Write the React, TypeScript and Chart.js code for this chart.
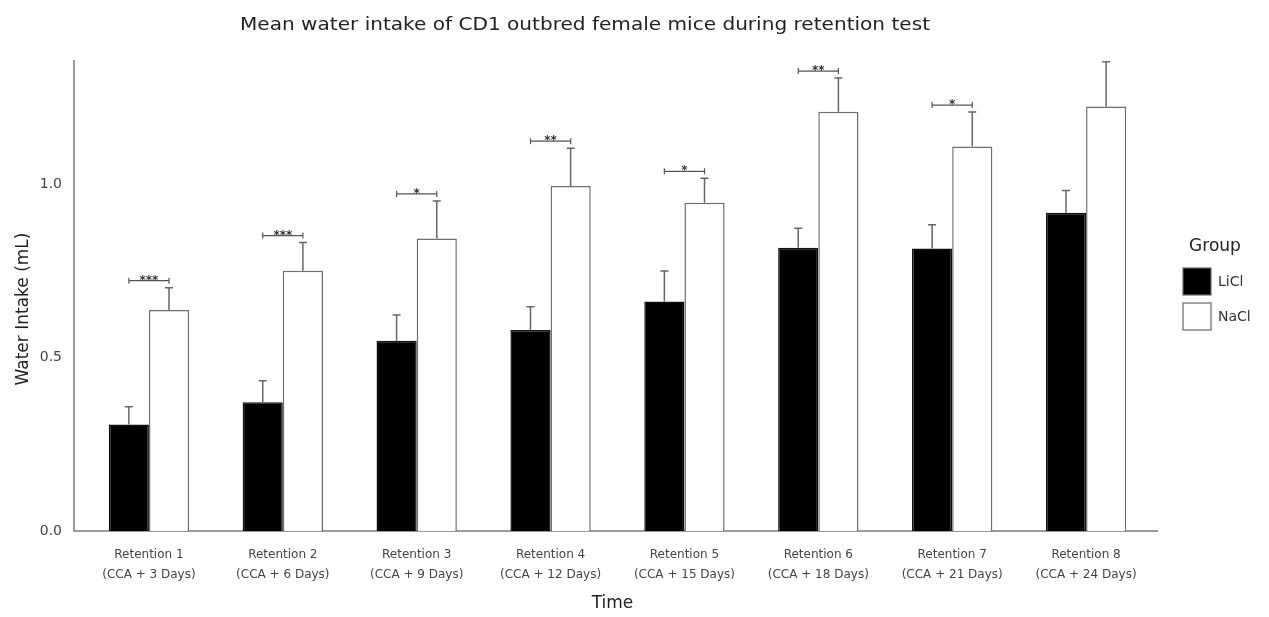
import React, { useEffect, useRef } from "react";
import { Chart, registerables } from "chart.js";

Chart.register(...registerables);

// Retention sessions (two-line tick labels)
const CATEGORIES: string[][] = [
  ["Retention 1", "(CCA + 3 Days)"],
  ["Retention 2", "(CCA + 6 Days)"],
  ["Retention 3", "(CCA + 9 Days)"],
  ["Retention 4", "(CCA + 12 Days)"],
  ["Retention 5", "(CCA + 15 Days)"],
  ["Retention 6", "(CCA + 18 Days)"],
  ["Retention 7", "(CCA + 21 Days)"],
  ["Retention 8", "(CCA + 24 Days)"],
];

// Mean water intake (mL) and standard error per group
const LICL_MEAN = [0.307, 0.371, 0.548, 0.579, 0.661, 0.816, 0.814, 0.917];
const LICL_SEM = [0.051, 0.062, 0.074, 0.067, 0.088, 0.056, 0.068, 0.064];
const NACL_MEAN = [0.637, 0.75, 0.843, 0.994, 0.946, 1.208, 1.108, 1.223];
const NACL_SEM = [0.064, 0.081, 0.108, 0.109, 0.07, 0.097, 0.099, 0.129];

// Significance markers between LiCl and NaCl per session
const SIGNIFICANCE = ["***", "***", "*", "**", "*", "**", "*", ""];

const Y_TICKS = [0, 0.5, 1.0];
const Y_MAX = 1.357;

const TITLE = "Mean water intake of CD1 outbred female mice during retention test";
const Y_TITLE = "Water Intake (mL)";
const X_TITLE = "Time";
const LEGEND_TITLE = "Group";
const GROUP_NAMES = ["LiCl", "NaCl"];
const GROUP_FILLS = ["#000000", "#ffffff"];

const FONT = "'DejaVu Sans', sans-serif";
const W = 1269;
const H = 617;

const decorations = {
  id: "decorations",
  beforeDatasetsDraw(chart: any) {
    const { ctx, chartArea } = chart;
    ctx.save();
    ctx.strokeStyle = "#7a7a7a";
    ctx.lineWidth = 1.5;
    ctx.beginPath();
    ctx.moveTo(chartArea.left - 8, chartArea.top);
    ctx.lineTo(chartArea.left - 8, chartArea.bottom);
    ctx.lineTo(chartArea.right + 5, chartArea.bottom);
    ctx.stroke();
    ctx.restore();
  },
  afterDatasetsDraw(chart: any) {
    const { ctx } = chart;
    const yScale = chart.scales.y;
    const means = [LICL_MEAN, NACL_MEAN];
    const sems = [LICL_SEM, NACL_SEM];
    ctx.save();
    // error bars (upper half only)
    ctx.strokeStyle = "#666666";
    ctx.lineWidth = 1.5;
    for (let d = 0; d < 2; d++) {
      const meta = chart.getDatasetMeta(d);
      meta.data.forEach((bar: any, i: number) => {
        const yTop = yScale.getPixelForValue(means[d][i] + sems[d][i]);
        ctx.beginPath();
        ctx.moveTo(bar.x, bar.y);
        ctx.lineTo(bar.x, yTop);
        ctx.moveTo(bar.x - 4, yTop);
        ctx.lineTo(bar.x + 4, yTop);
        ctx.stroke();
      });
    }
    // significance brackets
    const m0 = chart.getDatasetMeta(0);
    const m1 = chart.getDatasetMeta(1);
    SIGNIFICANCE.forEach((sig, i) => {
      if (!sig) return;
      const x1 = m0.data[i].x;
      const x2 = m1.data[i].x;
      const yb = yScale.getPixelForValue(NACL_MEAN[i] + NACL_SEM[i]) - 7;
      ctx.strokeStyle = "#555555";
      ctx.lineWidth = 1.2;
      ctx.beginPath();
      ctx.moveTo(x1, yb);
      ctx.lineTo(x2, yb);
      ctx.moveTo(x1, yb - 3);
      ctx.lineTo(x1, yb + 3);
      ctx.moveTo(x2, yb - 3);
      ctx.lineTo(x2, yb + 3);
      ctx.stroke();
      ctx.fillStyle = "#333333";
      ctx.font = `bold 12px ${FONT}`;
      ctx.textAlign = "center";
      ctx.textBaseline = "alphabetic";
      ctx.fillText(sig, (x1 + x2) / 2, yb + 3);
    });
    ctx.restore();
  },
  afterDraw(chart: any) {
    const { ctx, chartArea } = chart;
    ctx.save();
    ctx.fillStyle = "#222222";
    ctx.textAlign = "center";
    ctx.textBaseline = "middle";
    // chart title, stretched to the plot's title width
    ctx.font = `18px ${FONT}`;
    const tw = ctx.measureText(TITLE).width;
    ctx.save();
    ctx.translate(585, 25);
    ctx.scale(690 / tw, 1);
    ctx.fillText(TITLE, 0, 0);
    ctx.restore();
    ctx.font = `17px ${FONT}`;
    // x title
    ctx.fillText(X_TITLE, (chartArea.left + chartArea.right) / 2 - 5, 604);
    // y title
    ctx.save();
    ctx.translate(24, 309);
    ctx.rotate(-Math.PI / 2);
    ctx.fillText(Y_TITLE, 0, 0);
    ctx.restore();
    // legend
    ctx.fillText(LEGEND_TITLE, 1215, 247);
    ctx.font = `14px ${FONT}`;
    ctx.textAlign = "left";
    GROUP_NAMES.forEach((name, i) => {
      const top = 268 + i * 35;
      ctx.fillStyle = GROUP_FILLS[i];
      ctx.fillRect(1183, top, 28, 27);
      ctx.strokeStyle = "#666666";
      ctx.lineWidth = 1.2;
      ctx.strokeRect(1183, top, 28, 27);
      ctx.fillStyle = "#333333";
      ctx.fillText(name, 1218, top + 14);
    });
    ctx.restore();
  },
};

export default function App() {
  const canvasRef = useRef<HTMLCanvasElement | null>(null);

  useEffect(() => {
    const canvas = canvasRef.current;
    if (!canvas) return;
    const chart = new Chart(canvas, {
      type: "bar",
      data: {
        labels: CATEGORIES,
        datasets: [
          {
            label: GROUP_NAMES[0],
            data: LICL_MEAN,
            backgroundColor: GROUP_FILLS[0],
            borderColor: "#111111",
            borderWidth: 1.5,
            barPercentage: 1,
            categoryPercentage: 0.6,
          },
          {
            label: GROUP_NAMES[1],
            data: NACL_MEAN,
            backgroundColor: GROUP_FILLS[1],
            borderColor: "#6e6e6e",
            borderWidth: 1.5,
            barPercentage: 1,
            categoryPercentage: 0.6,
          },
        ],
      },
      options: {
        responsive: false,
        animation: false,
        layout: { padding: { top: 60, right: W - 1153, left: 0, bottom: 0 } },
        plugins: {
          legend: { display: false },
          title: { display: false },
          tooltip: { enabled: false },
        },
        scales: {
          x: {
            type: "category",
            grid: { display: false },
            border: { display: false },
            ticks: {
              font: { family: FONT, size: 12, lineHeight: 1.67 },
              color: "#444444",
              padding: 6,
              maxRotation: 0,
              autoSkip: false,
            },
            afterFit(scale: any) {
              scale.height = H - 531;
            },
          },
          y: {
            type: "linear",
            min: 0,
            max: Y_MAX,
            grid: { display: false },
            border: { display: false },
            afterBuildTicks(scale: any) {
              scale.ticks = Y_TICKS.map((v) => ({ value: v }));
            },
            ticks: {
              font: { family: FONT, size: 14 },
              color: "#444444",
              padding: 12,
              callback: (v: any) => Number(v).toFixed(1),
            },
            afterFit(scale: any) {
              scale.width = 82;
            },
          },
        },
      },
      plugins: [decorations],
    });
    return () => chart.destroy();
  }, []);

  return (
    <div style={{ position: "fixed", left: 0, top: 0, width: W, height: H, background: "#ffffff" }}>
      <canvas ref={canvasRef} width={W} height={H} style={{ display: "block" }} />
    </div>
  );
}
